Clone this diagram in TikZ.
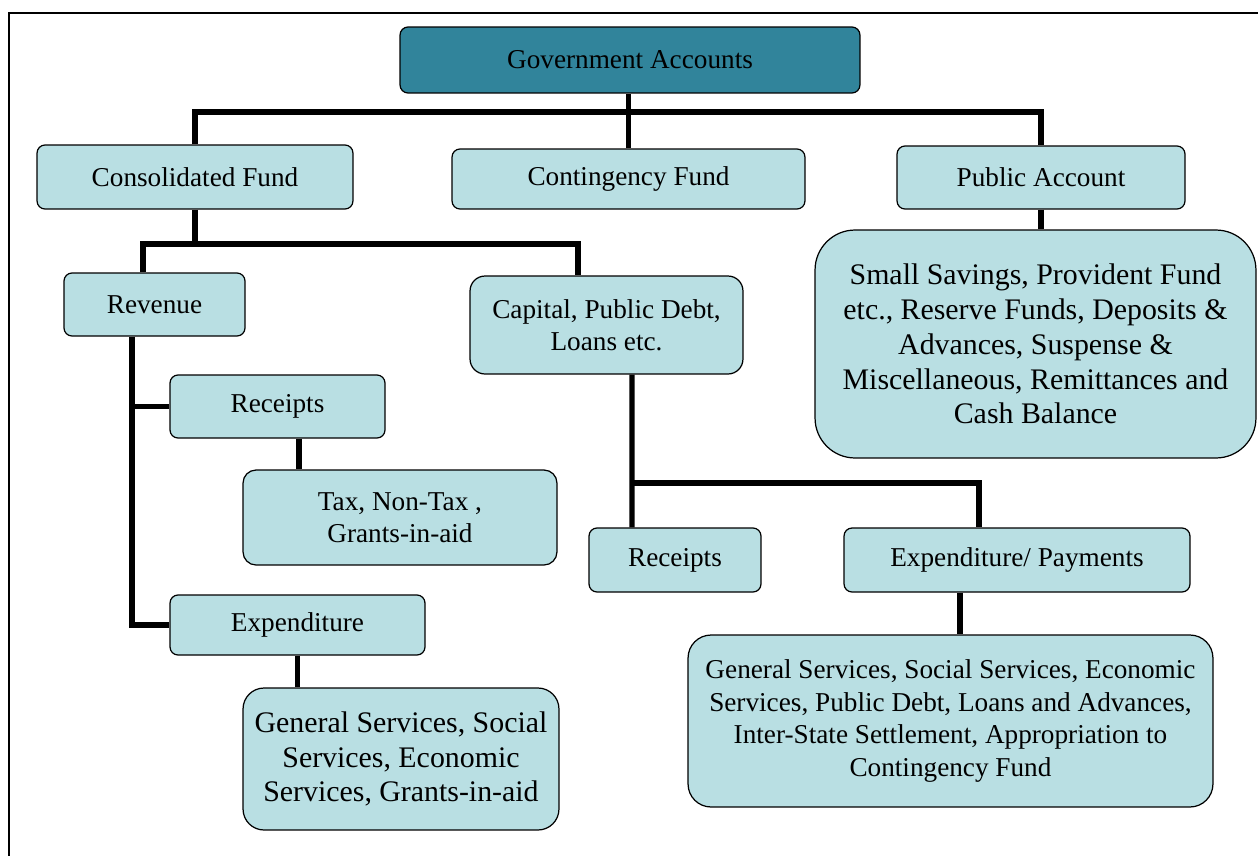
\documentclass[tikz,border=0pt]{standalone}
\usepackage{fontspec}
\setmainfont{Liberation Serif}
\definecolor{boxfill}{RGB}{185,223,227}
\definecolor{topfill}{RGB}{49,132,155}
\begin{document}
\begin{tikzpicture}[x=0.02cm,y=-0.02cm,
    box/.style={draw,line width=0.7pt,fill=boxfill,rounded corners=0.16cm,align=center,inner sep=0pt,font=\fontsize{15.5}{18.5}\selectfont},
    link/.style={line width=2.9pt}]
        \useasboundingbox (0,0) rectangle (1258,856);
        \draw[line width=0.85pt] (1258,13) -- (9,13) -- (9,856);
        % top level
        \node[box,fill=topfill,minimum width=9.2cm,minimum height=1.32cm] (gov) at (630,60) {Government Accounts};
        \node[box,minimum width=6.32cm,minimum height=1.28cm] (cons) at (195,177) {Consolidated Fund};
        \node[box,minimum width=7.06cm,minimum height=1.2cm] (cont) at (628.5,179) {Contingency Fund};
        \node[box,minimum width=5.76cm,minimum height=1.26cm] (pub) at (1041,177.5) {Public Account};
        \node[box,rounded corners=0.8cm,minimum width=8.82cm,minimum height=4.56cm,font=\fontsize{17}{19.8}\selectfont] (pubitems) at (1035.5,344)
            {Small Savings, Provident Fund\\etc., Reserve Funds, Deposits \&\\Advances, Suspense \&\\Miscellaneous, Remittances and\\Cash Balance};
        % consolidated fund
        \node[box,minimum width=3.62cm,minimum height=1.26cm] (rev) at (154.5,304.5) {Revenue};
        \node[box,rounded corners=0.3cm,minimum width=5.46cm,minimum height=1.96cm] (cap) at (606.5,325) {Capital, Public Debt,\\Loans etc.};
        \node[box,minimum width=4.3cm,minimum height=1.26cm] (revrec) at (277.5,406.5) {Receipts};
        \node[box,rounded corners=0.26cm,minimum width=6.28cm,minimum height=1.9cm] (revrecitems) at (400,517.5) {Tax, Non-Tax ,\\Grants-in-aid};
        \node[box,minimum width=5.1cm,minimum height=1.2cm] (revexp) at (297.5,625) {Expenditure};
        \node[box,rounded corners=0.42cm,minimum width=6.32cm,minimum height=2.84cm,font=\fontsize{17}{19.8}\selectfont] (revexpitems) at (401,759)
            {General Services, Social\\Services, Economic\\Services, Grants-in-aid};
        \node[box,minimum width=3.44cm,minimum height=1.28cm] (caprec) at (675,560) {Receipts};
        \node[box,minimum width=6.92cm,minimum height=1.28cm] (cappay) at (1017,560) {Expenditure/ Payments};
        \node[box,rounded corners=0.46cm,minimum width=10.5cm,minimum height=3.44cm] (cappayitems) at (950.5,721)
            {General Services, Social Services, Economic\\Services, Public Debt, Loans and Advances,\\Inter-State Settlement, Appropriation to\\Contingency Fund};
        % connectors
        \coordinate (topbar) at (630,112);
        \draw[link] (cont.north) -- (cont.north |- gov.south);
        \draw[link] (cons.north) |- (topbar) -| (pub.north);
        \draw[link] (pub.south) -- (pub.south |- pubitems.north);
        \coordinate (consbar) at (195,244);
        \draw[link] (cons.south) -- (consbar);
        \draw[link] ([xshift=-0.23cm]rev.north) |- (consbar) -| ([xshift=-0.57cm]cap.north);
        \draw[link] ([xshift=-0.45cm]rev.south) |- (revexp.west);
        \draw[link] (revrec.west) -- ++(-38,0);
        \draw[link] ([xshift=0.43cm]revrec.south) -- ([xshift=0.43cm]revrec.south |- revrecitems.north);
        \draw[link] (revexp.south) -- (revexp.south |- revexpitems.north);
        \coordinate (capbar) at (632,483);
        \draw[link] ([xshift=0.51cm]cap.south) -- (capbar) -- (capbar |- caprec.north);
        \draw[link] (capbar) -| ([xshift=-0.76cm]cappay.north);
        \draw[link] ([xshift=-1.14cm]cappay.south) -- ([xshift=-1.14cm]cappay.south |- cappayitems.north);
\end{tikzpicture}
\end{document}
